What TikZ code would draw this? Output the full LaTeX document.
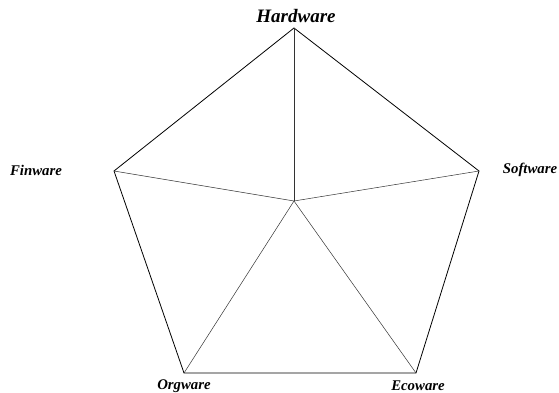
\documentclass[tikz,border=0pt]{standalone}
\usepackage{fontspec}
\setmainfont{Liberation Serif}
\usetikzlibrary{positioning}

\begin{document}
\begin{tikzpicture}[
    x=1pt, y=-1pt,
    edge/.style={line width=0.8pt},
    spoke/.style={line width=0.5pt, black!80},
    lbl/.style={font=\fontsize{14.8}{16}\selectfont\bfseries\itshape, inner sep=0pt},
    title/.style={font=\fontsize{19}{21}\selectfont\bfseries\itshape, inner sep=0pt},
]
\useasboundingbox (0,0) rectangle (559,393);
% === Pentagon corners ===
\coordinate (hw) at (294,28);
\coordinate (sw) at (479,171);
\coordinate (ew) at (416,373);
\coordinate (ow) at (184,373);
\coordinate (fw) at (114,171);
\coordinate (ctr) at (294,201);
% === Labels ===
\node[title] (hwlbl) at (296,16) {Hardware};
\node[lbl] (swlbl) at (530,170) {Software};
\node[lbl] (ewlbl) at (418,386) {Ecoware};
\node[lbl] (owlbl) at (184,386) {Orgware};
\node[lbl] (fwlbl) at (36,170) {Finware};
% === Outline ===
\draw[edge] (hw) -- (sw) -- (ew) -- (ow) -- (fw) -- cycle;
% === Spokes ===
\foreach \v in {hw, sw, ew, ow, fw} {
    \draw[spoke] (ctr) -- (\v);
}
\end{tikzpicture}
\end{document}
